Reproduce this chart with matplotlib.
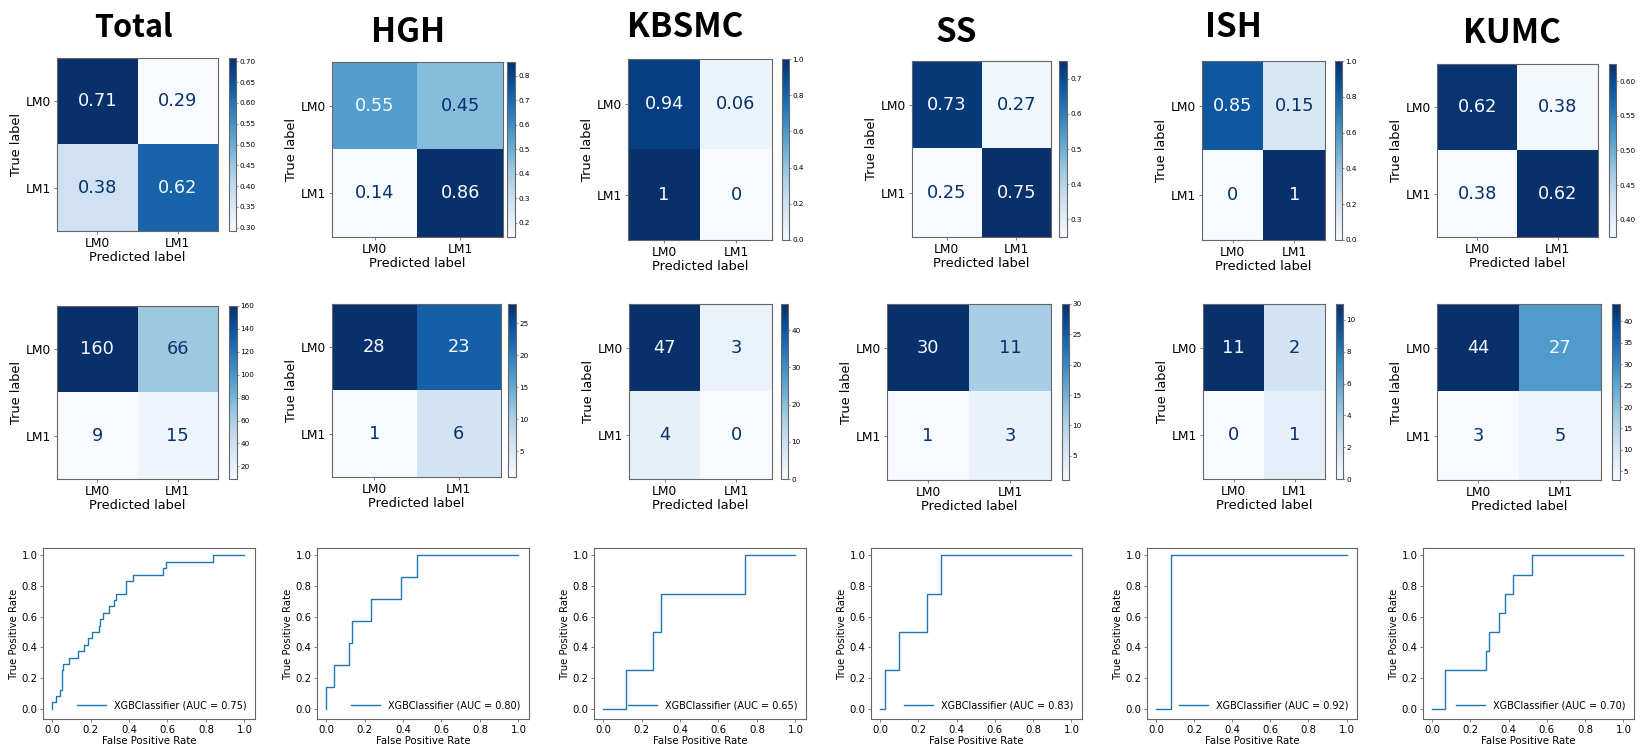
import matplotlib
matplotlib.use("Agg")
import matplotlib.pyplot as plt
import numpy as np

W, H = 1643, 747
fig = plt.figure(figsize=(W / 100, H / 100), dpi=100)

# ---------------- data ----------------
sites = ["Total", "HGH", "KBSMC", "SS", "ISH", "KUMC"]
class_labels = ["LM0", "LM1"]

counts_total = [[160, 66], [9, 15]]
counts_hgh = [[28, 23], [1, 6]]
counts_kbsmc = [[47, 3], [4, 0]]
counts_ss = [[30, 11], [1, 3]]
counts_ish = [[11, 2], [0, 1]]
counts_kumc = [[44, 27], [3, 5]]
counts_all = [counts_total, counts_hgh, counts_kbsmc, counts_ss, counts_ish, counts_kumc]

auc_values = [0.75, 0.80, 0.65, 0.83, 0.92, 0.70]

# ROC curves (FPR, TPR)
fpr_total = [0, 0, 0.019, 0.019, 0.04, 0.04, 0.05, 0.05, 0.058, 0.058, 0.088, 0.088, 0.135, 0.135,
             0.165, 0.165, 0.188, 0.188, 0.208, 0.208, 0.245, 0.245, 0.25, 0.25, 0.265, 0.265,
             0.297, 0.297, 0.322, 0.322, 0.33, 0.33, 0.385, 0.385, 0.42, 0.42, 0.575, 0.575,
             0.59, 0.59, 0.835, 0.835, 1.0]
tpr_total = [0, 0.042, 0.042, 0.083, 0.083, 0.125, 0.125, 0.25, 0.25, 0.292, 0.292, 0.333, 0.333, 0.375,
             0.375, 0.417, 0.417, 0.458, 0.458, 0.5, 0.5, 0.542, 0.542, 0.583, 0.583, 0.625,
             0.625, 0.667, 0.667, 0.708, 0.708, 0.75, 0.75, 0.833, 0.833, 0.875, 0.875, 0.917,
             0.917, 0.958, 0.958, 1.0, 1.0]
fpr_hgh = [0, 0, 0.039, 0.039, 0.118, 0.118, 0.137, 0.137, 0.235, 0.235, 0.392, 0.392, 0.471, 0.471, 1.0]
tpr_hgh = [0, 0.143, 0.143, 0.286, 0.286, 0.429, 0.429, 0.571, 0.571, 0.714, 0.714, 0.857, 0.857, 1.0, 1.0]
fpr_kbsmc = [0, 0.12, 0.12, 0.26, 0.26, 0.30, 0.30, 0.74, 0.74, 1.0]
tpr_kbsmc = [0, 0, 0.25, 0.25, 0.5, 0.5, 0.75, 0.75, 1.0, 1.0]
fpr_ss = [0, 0.024, 0.024, 0.098, 0.098, 0.244, 0.244, 0.317, 0.317, 1.0]
tpr_ss = [0, 0, 0.25, 0.25, 0.5, 0.5, 0.75, 0.75, 1.0, 1.0]
fpr_ish = [0, 0.077, 0.077, 1.0]
tpr_ish = [0, 0, 1.0, 1.0]
fpr_kumc = [0, 0.070, 0.070, 0.282, 0.282, 0.296, 0.296, 0.352, 0.352, 0.380, 0.380, 0.423, 0.423, 0.521, 0.521, 1.0]
tpr_kumc = [0, 0, 0.25, 0.25, 0.375, 0.375, 0.5, 0.5, 0.625, 0.625, 0.75, 0.75, 0.875, 0.875, 1.0, 1.0]
fpr_all = [fpr_total, fpr_hgh, fpr_kbsmc, fpr_ss, fpr_ish, fpr_kumc]
tpr_all = [tpr_total, tpr_hgh, tpr_kbsmc, tpr_ss, tpr_ish, tpr_kumc]

norm_cb_ticks = [[0.30, 0.35, 0.40, 0.45, 0.50, 0.55, 0.60, 0.65, 0.70],
                 [0.2, 0.3, 0.4, 0.5, 0.6, 0.7, 0.8],
                 [0.0, 0.2, 0.4, 0.6, 0.8, 1.0],
                 [0.3, 0.4, 0.5, 0.6, 0.7],
                 [0.0, 0.2, 0.4, 0.6, 0.8, 1.0],
                 [0.40, 0.45, 0.50, 0.55, 0.60]]
norm_cb_fmt = ["%.2f", "%.1f", "%.1f", "%.1f", "%.1f", "%.2f"]
count_cb_ticks = [[20, 40, 60, 80, 100, 120, 140, 160],
                  [5, 10, 15, 20, 25],
                  [0, 10, 20, 30, 40],
                  [5, 10, 15, 20, 25, 30],
                  [0, 2, 4, 6, 8, 10],
                  [5, 10, 15, 20, 25, 30, 35, 40]]

# ---------------- layout (pixel boxes: left, top, right, bottom) ----------------
row1_boxes = [(57, 58, 218, 231), (332, 62, 503, 237), (628, 59, 772, 240),
              (912, 61, 1051, 237), (1202, 61, 1325, 240), (1437, 64, 1598, 237)]
row1_cb = [(229, 236), (507, 515), (782, 789), (1059, 1067), (1335, 1342), (1609, 1616)]
row2_boxes = [(57, 306, 218, 479), (332, 304, 501, 477), (629, 304, 772, 479),
              (887, 304, 1051, 480), (1203, 304, 1325, 479), (1437, 304, 1601, 480)]
row2_cb = [(229, 237), (508, 516), (781, 788), (1062, 1069), (1336, 1343), (1612, 1620)]
roc_x = [(43, 255), (317, 529), (594, 806), (871, 1082), (1147, 1357), (1423, 1634)]
roc_y = (548, 719)
title_pos = [(133, 37), (408, 42), (685, 37), (956, 42), (1233, 37), (1512, 43)]
title_size = [22, 24, 24, 24, 24, 24]


def box(l, t, r, b):
    return [l / W, 1 - b / H, (r - l) / W, (b - t) / H]


cmap = plt.get_cmap("Blues")
spine_col = "#666666"


def draw_cm(vals, bx, cbx, ticks, fmt, txt_fmt):
    ax = fig.add_axes(box(*bx))
    arr = np.array(vals, dtype=float)
    vmin, vmax = arr.min(), arr.max()
    im = ax.imshow(arr, cmap=cmap, vmin=vmin, vmax=vmax, aspect="auto", interpolation="nearest")
    thresh = (vmin + vmax) / 2.0
    for i in range(2):
        for j in range(2):
            v = arr[i, j]
            col = cmap(0.0) if v >= thresh else cmap(1.0)
            txt = format(int(v), "d") if txt_fmt == "d" else format(v, ".2g")
            ax.text(j, i, txt, ha="center", va="center", color=col, fontsize=12.8)
    ax.set_xticks([0, 1])
    ax.set_yticks([0, 1])
    ax.set_xticklabels(class_labels, fontsize=8.8)
    ax.set_yticklabels(class_labels, fontsize=8.8)
    ax.set_xlabel("Predicted label", fontsize=9.3, labelpad=1)
    ax.set_ylabel("True label", fontsize=9.3, labelpad=2)
    ax.tick_params(length=2.5, width=0.6, pad=1.5, color=spine_col)
    for s in ax.spines.values():
        s.set_color(spine_col)
        s.set_linewidth(0.8)
    cax = fig.add_axes(box(cbx[0], bx[1], cbx[1], bx[3]))
    cb = fig.colorbar(im, cax=cax)
    cb.set_ticks(ticks)
    cb.ax.set_yticklabels([fmt % t for t in ticks] if fmt else [str(t) for t in ticks])
    cb.ax.tick_params(labelsize=5.2, length=1.5, width=0.5, pad=1, color=spine_col)
    cb.outline.set_edgecolor(spine_col)
    cb.outline.set_linewidth(0.8)


for k in range(6):
    c = np.array(counts_all[k], dtype=float)
    norm = c / c.sum(axis=1, keepdims=True)
    draw_cm(norm, row1_boxes[k], row1_cb[k], norm_cb_ticks[k], norm_cb_fmt[k], "g")
    draw_cm(c, row2_boxes[k], row2_cb[k], count_cb_ticks[k], None, "d")

    ax = fig.add_axes(box(roc_x[k][0], roc_y[0], roc_x[k][1], roc_y[1]))
    ax.plot(fpr_all[k], tpr_all[k], color="#1f77b4", lw=1.0,
            label="XGBClassifier (AUC = %.2f)" % auc_values[k])
    ax.set_xlim(-0.047, 1.055)
    ax.set_ylim(-0.067, 1.048)
    ax.set_xticks([0, 0.2, 0.4, 0.6, 0.8, 1.0])
    ax.set_yticks([0, 0.2, 0.4, 0.6, 0.8, 1.0])
    ax.tick_params(labelsize=7.3, length=2.5, width=0.6, pad=1.5, color=spine_col)
    ax.set_xlabel("False Positive Rate", fontsize=7.3, labelpad=1)
    ax.set_ylabel("True Positive Rate", fontsize=7.3, labelpad=2)
    for s in ax.spines.values():
        s.set_color(spine_col)
        s.set_linewidth(0.8)
    ax.legend(loc="lower right", fontsize=7.0, frameon=False, handlelength=3.0)

    tx, ty = title_pos[k]
    fig.text(tx / W, 1 - ty / H, sites[k], ha="center", va="baseline", fontsize=title_size[k],
             fontweight="bold", family=["Noto Sans CJK KR", "DejaVu Sans"])

fig.savefig("out.png", dpi=100)
